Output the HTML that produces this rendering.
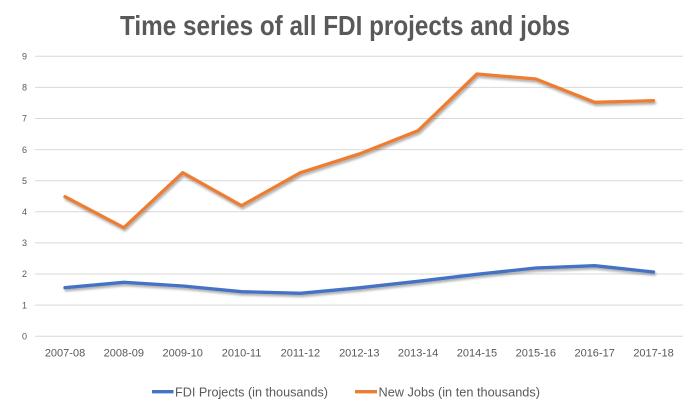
<!DOCTYPE html>
<html>
<head>
<meta charset="utf-8">
<style>
  html, body { margin: 0; padding: 0; background: #ffffff; }
  svg { display: block; }
  text { font-family: "Liberation Sans", sans-serif; fill: #595959; }
</style>
</head>
<body>
<svg width="690" height="410" viewBox="0 0 690 410" xmlns="http://www.w3.org/2000/svg">
  <defs>
    <filter id="sh" x="-5%" y="-20%" width="110%" height="140%">
      <feGaussianBlur in="SourceAlpha" stdDeviation="1.2"/>
      <feOffset dx="1" dy="2" result="b"/>
      <feComponentTransfer><feFuncA type="linear" slope="0.35"/></feComponentTransfer>
      <feMerge><feMergeNode/><feMergeNode in="SourceGraphic"/></feMerge>
    </filter>
  </defs>
  <rect width="690" height="410" fill="#ffffff"/>

  <!-- Title -->
  <text x="120" y="35" font-size="28" font-weight="bold" textLength="450" lengthAdjust="spacingAndGlyphs">Time series of all FDI projects and jobs</text>

  <!-- Gridlines -->
  <g stroke="#d9d9d9" stroke-width="1">
    <line x1="35" y1="56.3" x2="683" y2="56.3"/>
    <line x1="35" y1="87.4" x2="683" y2="87.4"/>
    <line x1="35" y1="118.5" x2="683" y2="118.5"/>
    <line x1="35" y1="149.6" x2="683" y2="149.6"/>
    <line x1="35" y1="180.7" x2="683" y2="180.7"/>
    <line x1="35" y1="211.8" x2="683" y2="211.8"/>
    <line x1="35" y1="242.9" x2="683" y2="242.9"/>
    <line x1="35" y1="274.0" x2="683" y2="274.0"/>
    <line x1="35" y1="305.1" x2="683" y2="305.1"/>
    <line x1="35" y1="336.2" x2="683" y2="336.2"/>
  </g>

  <!-- Y labels -->
  <g font-size="9" text-anchor="end">
    <text x="27" y="59.5">9</text>
    <text x="27" y="90.6">8</text>
    <text x="27" y="121.7">7</text>
    <text x="27" y="152.8">6</text>
    <text x="27" y="183.9">5</text>
    <text x="27" y="215.0">4</text>
    <text x="27" y="246.1">3</text>
    <text x="27" y="277.2">2</text>
    <text x="27" y="308.3">1</text>
    <text x="27" y="339.4">0</text>
  </g>

  <!-- X labels -->
  <g font-size="11" text-anchor="middle">
    <text x="65" y="356.3">2007-08</text>
    <text x="123.85" y="356.3">2008-09</text>
    <text x="182.7" y="356.3">2009-10</text>
    <text x="241.55" y="356.3">2010-11</text>
    <text x="300.4" y="356.3">2011-12</text>
    <text x="359.25" y="356.3">2012-13</text>
    <text x="418.1" y="356.3">2013-14</text>
    <text x="476.95" y="356.3">2014-15</text>
    <text x="535.8" y="356.3">2015-16</text>
    <text x="594.65" y="356.3">2016-17</text>
    <text x="653.5" y="356.3">2017-18</text>
  </g>

  <!-- Series -->
  <polyline filter="url(#sh)" fill="none" stroke="#4472C4" stroke-width="3.3" stroke-linejoin="round" stroke-linecap="round"
    points="65,287.7 123.85,282.3 182.7,286 241.55,291.7 300.4,293.3 359.25,287.8 418.1,281.3 476.95,274.3 535.8,268 594.65,265.7 653.5,272"/>
  <polyline filter="url(#sh)" fill="none" stroke="#ED7D31" stroke-width="3.3" stroke-linejoin="round" stroke-linecap="round"
    points="65,196.7 123.85,227.7 182.7,172.7 241.55,205.7 300.4,172.7 359.25,154 418.1,130.7 476.95,74 535.8,79 594.65,102.3 653.5,100.7"/>

  <!-- Legend -->
  <line x1="152" y1="391.7" x2="173.5" y2="391.7" stroke="#4472C4" stroke-width="3.3"/>
  <text x="175" y="396.3" font-size="13" textLength="153" lengthAdjust="spacingAndGlyphs">FDI Projects (in thousands)</text>
  <line x1="355" y1="391.7" x2="377" y2="391.7" stroke="#ED7D31" stroke-width="3.3"/>
  <text x="378.5" y="396.3" font-size="13" textLength="161.5" lengthAdjust="spacingAndGlyphs">New Jobs (in ten thousands)</text>
</svg>
</body>
</html>
